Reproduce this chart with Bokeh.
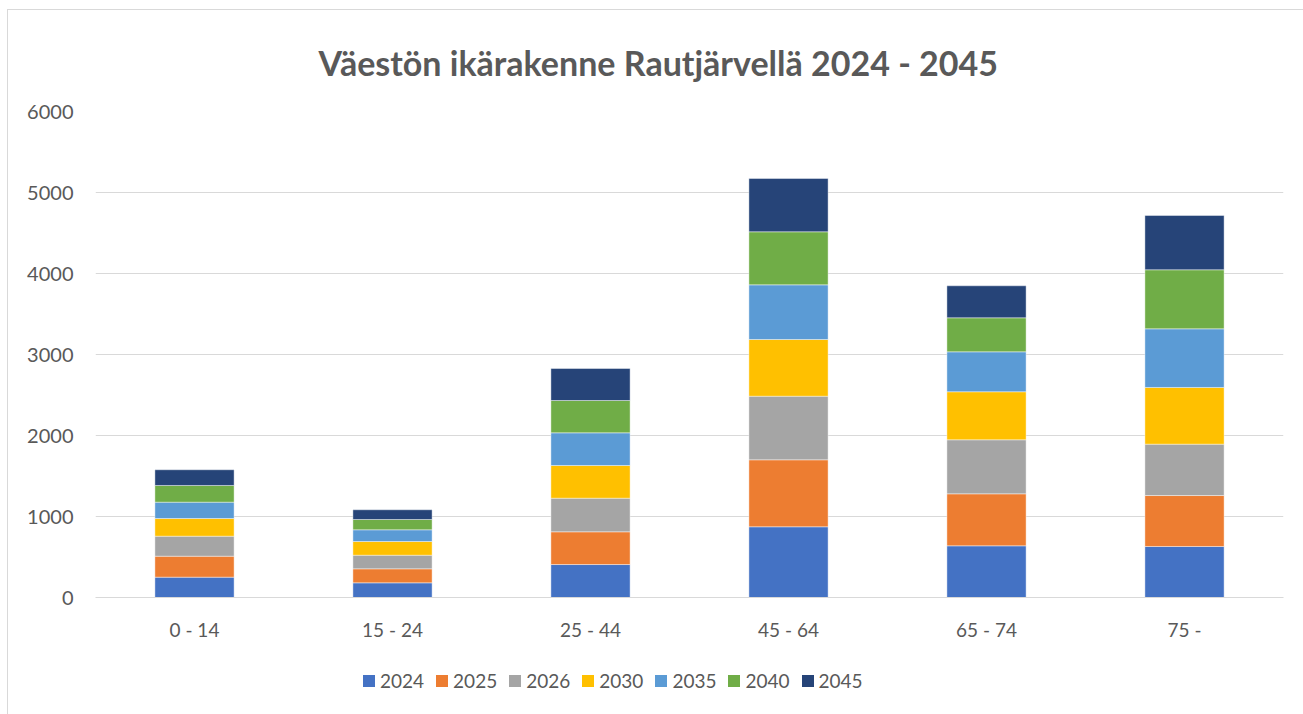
from bokeh.plotting import figure
from bokeh.layouts import column
from bokeh.models import Legend, LegendItem, FactorRange, Range1d, FixedTicker
from bokeh.embed import file_html
from bokeh.resources import INLINE

categories = ["0 - 14", "15 - 24", "25 - 44", "45 - 64", "65 - 74", "75 -"]
years = ["2024", "2025", "2026", "2030", "2035", "2040", "2045"]
v2024 = [251, 181, 407, 873, 638, 630]
v2025 = [259, 173, 404, 827, 642, 629]
v2026 = [247, 168, 415, 785, 667, 634]
v2030 = [218, 169, 404, 700, 593, 700]
v2035 = [202, 145, 403, 675, 493, 724]
v2040 = [206, 127, 399, 655, 420, 729]
v2045 = [194, 120, 395, 658, 395, 670]
y_ticks = [0, 1000, 2000, 3000, 4000, 5000, 6000]

colors = ["#4472C4", "#ED7D31", "#A5A5A5", "#FFC000", "#5B9BD5", "#70AD47", "#264478"]
FONT = "Lato"
TXT = "#595959"

data = {"cat": categories}
for y, vals in zip(years, [v2024, v2025, v2026, v2030, v2035, v2040, v2045]):
    data[y] = vals

p = figure(
    x_range=FactorRange(*categories, range_padding=0),
    y_range=Range1d(0, 6000),
    width=1295, height=650,
    output_backend="svg", toolbar_location=None,
    min_border_left=87, min_border_right=20,
    min_border_top=101, min_border_bottom=63,
    title="Väestön ikärakenne Rautjärvellä 2024 - 2045",
)

p.vbar_stack(years, x="cat", width=0.4, color=colors, source=data,
             line_color="white", line_width=0.6, line_alpha=0.7)

p.title.align = "left"
p.title.text_font = FONT
p.title.text_font_size = "34px"
p.title.text_font_style = "bold"
p.title.text_color = TXT
p.title.standoff = 58
p.title.offset = 223

p.outline_line_color = None
p.xgrid.grid_line_color = None
p.ygrid.grid_line_color = "#D9D9D9"
p.ygrid.grid_line_width = 1
p.yaxis.ticker = FixedTicker(ticks=y_ticks)
p.yaxis.axis_line_color = None
p.yaxis.major_tick_line_color = None
p.yaxis.minor_tick_line_color = None
p.yaxis.major_label_standoff = 16
p.yaxis.major_label_text_font = FONT
p.yaxis.major_label_text_font_size = "20px"
p.yaxis.major_label_text_color = TXT

p.xaxis.axis_line_color = "#D9D9D9"
p.xaxis.major_tick_line_color = None
p.xaxis.minor_tick_line_color = None
p.xaxis.major_label_standoff = 14
p.xaxis.major_label_text_font = FONT
p.xaxis.major_label_text_font_size = "19px"
p.xaxis.major_label_text_color = TXT

# legend strip below the chart (its bar renderers are hidden; only the legend shows)
p2 = figure(width=1295, height=54, output_backend="svg", toolbar_location=None,
            x_range=FactorRange(*categories, range_padding=0),
            y_range=Range1d(-200000, -199999),
            x_axis_location=None, y_axis_location=None, min_border=0)
p2.outline_line_color = None
p2.xgrid.grid_line_color = None
p2.ygrid.grid_line_color = None
r2 = p2.vbar_stack(years, x="cat", width=0.4, color=colors, source=data, line_color=None)
for r in r2:
    r.visible = False
items = [LegendItem(label=yr, renderers=[r]) for yr, r in zip(years, r2)]

legend = Legend(
    items=items,
    orientation="horizontal",
    location=(266, 22),
    glyph_width=15, glyph_height=15,
    label_standoff=4, spacing=10,
    label_text_font=FONT, label_text_font_size="19px", label_text_color=TXT,
    border_line_color=None, background_fill_alpha=0,
    padding=0, margin=0,
)
p2.add_layout(legend, "center")

layout = column(p, p2, spacing=0,
                styles={"margin-left": "7px", "margin-top": "9px",
                        "border-left": "1px solid #D9D9D9",
                        "border-top": "1px solid #D9D9D9"})

open("out.html", "w").write(file_html(layout, INLINE))
